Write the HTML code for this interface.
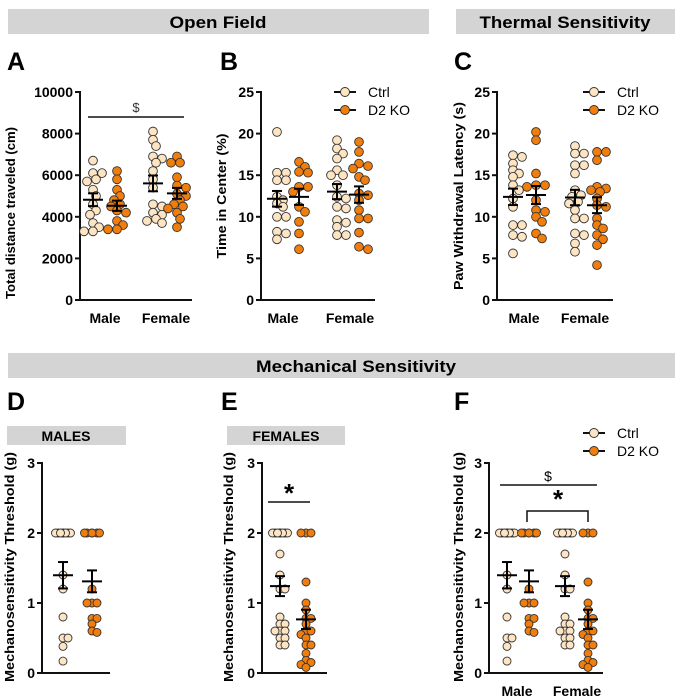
<!DOCTYPE html>
<html><head><meta charset="utf-8">
<style>
html,body{margin:0;padding:0;background:#fff;}
svg{display:block;font-family:"Liberation Sans",Arial,sans-serif;}
</style></head>
<body>
<svg id="fig" width="684" height="699" viewBox="0 0 684 699" xmlns="http://www.w3.org/2000/svg">
  <rect x="8" y="9" width="421" height="25" fill="#d4d4d4"/>
  <text x="218" y="28" text-anchor="middle" font-size="17" font-weight="bold" textLength="97" lengthAdjust="spacingAndGlyphs">Open Field</text>
  <rect x="456" y="9" width="219" height="25" fill="#d4d4d4"/>
  <text x="565" y="28" text-anchor="middle" font-size="17" font-weight="bold" textLength="171" lengthAdjust="spacingAndGlyphs">Thermal Sensitivity</text>
  <rect x="8" y="353" width="667" height="25" fill="#d4d4d4"/>
  <text x="356" y="372" text-anchor="middle" font-size="17" font-weight="bold" textLength="200" lengthAdjust="spacingAndGlyphs">Mechanical Sensitivity</text>
  <rect x="7" y="426" width="119" height="19" fill="#d4d4d4"/>
  <text x="66" y="441" text-anchor="middle" font-size="14" font-weight="bold">MALES</text>
  <rect x="227" y="426" width="118" height="19" fill="#d4d4d4"/>
  <text x="286" y="441" text-anchor="middle" font-size="14" font-weight="bold">FEMALES</text>
  <g id="plots"></g>
</svg>
<script>
// ---- data ----
const groupLabels = ["Male", "Female"];
const distMaleCtrl = [6700,6100,6100,5800,5700,5300,5000,4600,4300,4100,3700,3500,3300,3300];
const distMaleKO = [6200,5800,5300,5000,4800,4600,4500,4300,4200,3800,3600,3400,3400];
const distFemCtrl = [8100,7700,7400,6900,6800,6600,6200,5800,5400,4600,4500,4200,4100,3900,3800,3700];
const distFemKO = [6900,6600,6600,5900,5500,5400,5100,5000,4800,4600,4500,4400,4200,3900,3500];
const centerMaleCtrl = [20.2,15.3,15.3,14.4,14.4,12.4,12,11.6,11.2,10,10,8.2,8,7.3];
const centerMaleKO = [16.6,16,15.4,15.3,13.6,13.6,13,11.2,10.6,9.4,8,6.1];
const centerFemCtrl = [19.2,18.2,17.6,17,15.6,15,15,13.8,12.4,12.2,11.2,11,9.6,9.3,8.8,7.8,7.8];
const centerFemKO = [19,17.8,16.4,16.1,15.8,14.8,14.4,12.8,12.6,12,10.8,9.8,9.8,8.1,6.1,6.4];
const pawMaleCtrl = [17.4,17.2,16.4,15.6,15.2,14.8,13.8,13.2,12.2,11.2,9,9,7.6,7.8,5.6];
const pawMaleKO = [20.2,19.2,15.2,13.8,13.8,13.6,12,10.8,10.6,10,9.4,8,7.4];
const pawFemCtrl = [18.5,17.6,17.6,16.2,16.2,15.2,13.2,12.6,12.4,11.8,11.6,10.8,9.8,9.8,7.8,8,6.8,5.8];
const pawFemKO = [17.8,17.8,16.8,13.6,13.4,13.2,13,12.2,11.4,11.2,9.8,9,8.6,7.8,7.3,6.6,4.2];
const mechMaleCtrl = [2,2,2,2,2,2,2,2,1.4,1.2,0.8,0.5,0.5,0.38,0.17];
const mechMaleKO = [2,2,2,2,2,2,1.2,1,1,1,0.78,0.78,0.7,0.6,0.58];
const mechFemCtrl = [2,2,2,2,2,2,2,2,1.7,1.4,1.2,1.2,0.8,0.7,0.7,0.6,0.6,0.6,0.5,0.5,0.4,0.4];
const mechFemKO = [2,2,2,1.3,1.0,0.9,0.78,0.78,0.7,0.6,0.6,0.55,0.5,0.4,0.4,0.28,0.18,0.15,0.12,0.08];
const ticksDist = [0,2000,4000,6000,8000,10000];
const ticksPct = [0,5,10,15,20,25];
const ticksMech = [0,1,2,3];

const NS = "http://www.w3.org/2000/svg";
const root = document.getElementById('plots');
const CTRL = "#fde4c2", KO = "#f07d0c";
function mk(tag, attrs, parent) {
  const e = document.createElementNS(NS, tag);
  for (const k in attrs) e.setAttribute(k, attrs[k]);
  (parent || root).appendChild(e);
  return e;
}
function txt(x, y, s, size, weight, anchor, parent) {
  const t = mk('text', {x: x, y: y, 'font-size': size, 'font-weight': weight, 'text-anchor': anchor}, parent);
  t.textContent = s;
  return t;
}
function swarm(vals, ys, step, minD, maxOff) {
  const placed = [];
  const order = vals.map((v, i) => i).sort((a, b) => vals[b] - vals[a]);
  const res = new Array(vals.length);
  order.forEach(i => {
    const y = ys(vals[i]);
    let best = 0, bestCost = Infinity;
    for (let k = 0; k <= 2 * Math.floor(maxOff / step); k++) {
      const off = (k % 2 ? 1 : -1) * Math.ceil(k / 2) * step;
      let cost = 0;
      placed.forEach(p => { const d = Math.hypot(p[0] - off, p[1] - y); if (d < minD) cost += minD - d; });
      if (cost === 0) { best = off; bestCost = 0; break; }
      if (cost < bestCost) { bestCost = cost; best = off; }
    }
    placed.push([best, y]);
    res[i] = best;
  });
  return res;
}
function panel(cfg) {
  const g = mk('g', {});
  
  
  const ys = v => cfg.y0 - (v - cfg.ticks[0]) / (cfg.ticks[cfg.ticks.length - 1] - cfg.ticks[0]) * (cfg.y0 - cfg.y1);
  const letter = txt(cfg.lx, cfg.ly, cfg.letter, 25, 'bold', 'start', g);
  
  
  const ya = mk('line', {x1: cfg.ax, y1: cfg.y1 - 1, x2: cfg.ax, y2: cfg.y0 + 1, stroke: '#111', 'stroke-width': 2}, g);
  
  
  const xa = mk('line', {x1: cfg.ax - 1, y1: cfg.y0, x2: cfg.xend, y2: cfg.y0, stroke: '#111', 'stroke-width': 2}, g);
  
  
  cfg.ticks.forEach(t => {
    mk('line', {x1: cfg.ax - 5, y1: ys(t), x2: cfg.ax, y2: ys(t), stroke: '#111', 'stroke-width': 2}, g);
    const tl = txt(cfg.ax - 7, ys(t) + 5, String(t), 14, 'bold', 'end', g);
    
    
  });
  const tt = mk('text', {x: 0, y: 0, 'font-size': 13, 'font-weight': 'bold', 'text-anchor': 'middle',
    transform: 'translate(' + cfg.tx + ',' + cfg.ty + ') rotate(-90)', textLength: cfg.tlen, lengthAdjust: 'spacingAndGlyphs'}, g);
  tt.textContent = cfg.title;
  
  
  if (cfg.xlabels) cfg.xlabels.forEach((l, i) => {
    const xl = txt(cfg.xlx[i], cfg.y0 + 23, l, 14, 'bold', 'middle', g);
    
    
  });
  cfg.series.forEach(s => {
    const offs = swarm(s.vals, ys, cfg.step, cfg.minD, cfg.maxOff);
    s.vals.forEach((v, i) => {
      const c = mk('circle', {cx: s.x + offs[i], cy: ys(v), r: cfg.r, fill: s.ko ? KO : CTRL, stroke: '#333', 'stroke-width': 0.9}, g);
      
      
    });
    const n = s.vals.length, m = s.vals.reduce((a, b) => a + b, 0) / n;
    const sd = Math.sqrt(s.vals.reduce((a, b) => a + (b - m) * (b - m), 0) / (n - 1));
    const se = sd / Math.sqrt(n);
    const eg = mk('g', {stroke: '#000', 'stroke-width': 2}, g);
    
    
    mk('line', {x1: s.x - 10, y1: ys(m), x2: s.x + 10, y2: ys(m)}, eg);
    mk('line', {x1: s.x, y1: ys(m + se), x2: s.x, y2: ys(m - se)}, eg);
    mk('line', {x1: s.x - 5, y1: ys(m + se), x2: s.x + 5, y2: ys(m + se)}, eg);
    mk('line', {x1: s.x - 5, y1: ys(m - se), x2: s.x + 5, y2: ys(m - se)}, eg);
  });
  if (cfg.legend) {
    const lg = mk('g', {}, g);
    
    
    [['Ctrl', CTRL], ['D2 KO', KO]].forEach((e, i) => {
      const y = cfg.legend.y + i * 18;
      const eg = mk('g', {}, lg);
      
      
      mk('line', {x1: cfg.legend.x, y1: y, x2: cfg.legend.x + 22, y2: y, stroke: '#111', 'stroke-width': 2}, eg);
      mk('circle', {cx: cfg.legend.x + 11, cy: y, r: 4.5, fill: e[1], stroke: '#333', 'stroke-width': 0.9}, eg);
      txt(cfg.legend.x + 34, y + 5, e[0], 14, 'normal', 'start', eg);
    });
  }
  return g;
}
const bigCfg = {r: 4.4, step: 3, minD: 6.5, maxOff: 11};
const mechCfg = {r: 4.0, step: 2.5, minD: 5, maxOff: 8};
panel(Object.assign({name: 'panel-a-distance', letter: 'A', lx: 7, ly: 70, ax: 80, xend: 192, y0: 300, y1: 92, ticks: ticksDist,
  title: 'Total distance traveled (cm)', tx: 15, ty: 213, tlen: 172, xlabels: groupLabels, xlx: [105, 166],
  series: [{x: 93, vals: distMaleCtrl}, {x: 117, vals: distMaleKO, ko: 1}, {x: 153, vals: distFemCtrl}, {x: 177, vals: distFemKO, ko: 1}]}, bigCfg));
panel(Object.assign({name: 'panel-b-center-time', letter: 'B', lx: 220, ly: 70, ax: 261, xend: 375, y0: 300, y1: 92, ticks: ticksPct,
  title: 'Time in Center (%)', tx: 226, ty: 196, tlen: 125, xlabels: groupLabels, xlx: [283, 350], legend: {x: 334, y: 92},
  series: [{x: 277, vals: centerMaleCtrl}, {x: 299, vals: centerMaleKO, ko: 1}, {x: 337, vals: centerFemCtrl}, {x: 359, vals: centerFemKO, ko: 1}]}, bigCfg));
panel(Object.assign({name: 'panel-c-paw-latency', letter: 'C', lx: 454, ly: 70, ax: 497, xend: 613, y0: 300, y1: 92, ticks: ticksPct,
  title: 'Paw Withdrawal Latency (s)', tx: 463, ty: 196, tlen: 188, xlabels: groupLabels, xlx: [524, 585], legend: {x: 583, y: 92},
  series: [{x: 513, vals: pawMaleCtrl}, {x: 536, vals: pawMaleKO, ko: 1}, {x: 575, vals: pawFemCtrl}, {x: 597, vals: pawFemKO, ko: 1}]}, bigCfg));
panel(Object.assign({name: 'panel-d-males', letter: 'D', lx: 7, ly: 410, ax: 42, xend: 110, y0: 673, y1: 463, ticks: ticksMech,
  title: 'Mechanosensitivity Threshold (g)', tx: 14, ty: 567, tlen: 230,
  series: [{x: 63, vals: mechMaleCtrl}, {x: 92, vals: mechMaleKO, ko: 1}]}, mechCfg));
panel(Object.assign({name: 'panel-e-females', letter: 'E', lx: 221, ly: 410, ax: 262, xend: 327, y0: 673, y1: 463, ticks: ticksMech,
  title: 'Mechanosensitivity Threshold (g)', tx: 233, ty: 567, tlen: 230,
  series: [{x: 280, vals: mechFemCtrl}, {x: 306, vals: mechFemKO, ko: 1}]}, mechCfg));
panel(Object.assign({name: 'panel-f-combined', letter: 'F', lx: 454, ly: 410, ax: 489, xend: 603, y0: 673, y1: 463, ticks: ticksMech,
  title: 'Mechanosensitivity Threshold (g)', tx: 463, ty: 567, tlen: 230, xlabels: groupLabels, xlx: [517, 577], legend: {x: 583, y: 433},
  series: [{x: 507, vals: mechMaleCtrl}, {x: 529, vals: mechMaleKO, ko: 1}, {x: 565, vals: mechFemCtrl}, {x: 588, vals: mechFemKO, ko: 1}]}, mechCfg));

const sig = mk('g', {stroke: '#111', 'stroke-width': 1.5, fill: 'none'});


mk('line', {x1: 88, y1: 117, x2: 184, y2: 117}, sig);
mk('line', {x1: 268, y1: 502, x2: 310, y2: 502}, sig);
mk('line', {x1: 500, y1: 485, x2: 597, y2: 485}, sig);
mk('polyline', {points: '527,522 527,511 588,511 588,522'}, sig);
const s1 = txt(136, 112, '$', 13, 'normal', 'middle'); s1.setAttribute('fill', '#333');


const s2 = txt(289, 502, '*', 26, 'bold', 'middle');


const s3 = txt(548, 481, '$', 14, 'normal', 'middle');


const s4 = txt(558, 508, '*', 26, 'bold', 'middle');


</script>
</body></html>
